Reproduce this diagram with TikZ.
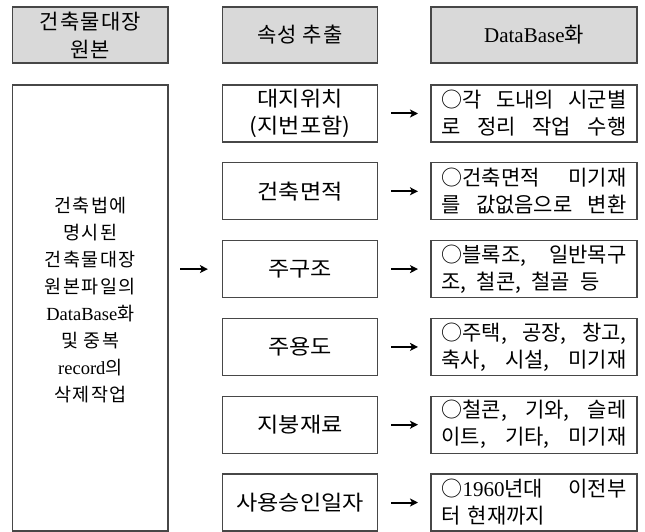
\documentclass[tikz,border=0pt]{standalone}
\usepackage{fontspec}
\setmainfont{Liberation Serif}
\newfontfamily\krfont{Noto Sans CJK KR}
\newfontfamily\krmid{Noto Sans CJK KR}[FakeStretch=1.1]
\newfontfamily\krhdr{Noto Sans CJK KR}[LetterSpace=6]
\newfontfamily\krwide{Noto Sans CJK KR}[LetterSpace=8]
\usetikzlibrary{arrows.meta}
\newcommand{\jline}[2][185pt]{\makebox[#1][s]{#2}}
\newcommand{\gap}{\hfill\ }
\begin{document}
\begin{tikzpicture}[x=1pt,y=-1pt,
  box/.style={draw=black!72, line width=1.2pt, inner sep=0pt, minimum height=57pt, align=center, font=\fontsize{21}{27}\selectfont\krfont},
  hdr/.style={box, fill=black!15, minimum height=56pt, font=\fontsize{21}{28}\selectfont\krhdr},
  mid/.style={box, minimum width=155pt, font=\fontsize{21}{27}\selectfont\krmid},
  res/.style={box, minimum width=206pt, text width=185pt, align=left},
  txt/.style={inner sep=0pt, align=center, font=\fontsize{18.5}{27}\selectfont\krwide},
  arr/.style={-{Stealth[length=8pt,width=8pt,inset=2pt]}, line width=2pt, black}
]
\useasboundingbox (0,0) rectangle (645,532);
% headers
\node[hdr, minimum width=155.3pt] (h1) at (90.3,35) {건축물대장\\원본};
\node[hdr, minimum width=155pt] (h2) at (300,35) {속성 추출};
\node[hdr, minimum width=206pt] (h3) at (534,35) {{\rmfamily DataBase}화};
% source box
\node[box, minimum width=155.3pt, minimum height=446pt] (src) at (90.3,308) {};
\node[txt] (srctext) at (90.3,300) {건축법에\\명시된\\건축물대장\\원본파일의\\{\rmfamily DataBase}화\\및 중복\\{\rmfamily record}의\\삭제작업};
% attribute boxes
\node[mid] (m1) at (300,113.5) {대지위치\\(지번포함)};
\node[mid] (m2) at (300,191.3) {건축면적};
\node[mid] (m3) at (300,269.1) {주구조};
\node[mid] (m4) at (300,346.9) {주용도};
\node[mid] (m5) at (300,424.7) {지붕재료};
\node[mid] (m6) at (300,502.5) {사용승인일자};
% result boxes
\node[res] (r1) at (534,113.5) {\jline{○각\gap 도내의\gap 시군별}\\\jline{로\gap 정리\gap 작업\gap 수행}};
\node[res] (r2) at (534,191.3) {\jline{○건축면적\gap 미기재}\\\jline{를\gap 값없음으로\gap 변환}};
\node[res] (r3) at (534,269.1) {\jline{○블록조,\gap 일반목구}\\\jline[158pt]{조,\gap 철콘,\gap 철골\gap 등}};
\node[res] (r4) at (534,346.9) {\jline{○주택,\gap 공장,\gap 창고,}\\\jline{축사,\gap 시설,\gap 미기재}};
\node[res] (r5) at (534,424.7) {\jline{○철콘,\gap 기와,\gap 슬레}\\\jline{이트,\gap 기타,\gap 미기재}};
\node[res] (r6) at (534,502.5) {\jline{○{\rmfamily 1960}년대\gap 이전부}\\터 현재까지};
% arrows
\draw[arr, shorten <=11.5pt, shorten >=14pt] (src.east |- m3) -- (m3.west);
\foreach \i in {1,...,6}{
  \draw[arr, shorten <=13pt, shorten >=12.4pt] (m\i.east) -- (r\i.west);
}
\end{tikzpicture}
\end{document}
